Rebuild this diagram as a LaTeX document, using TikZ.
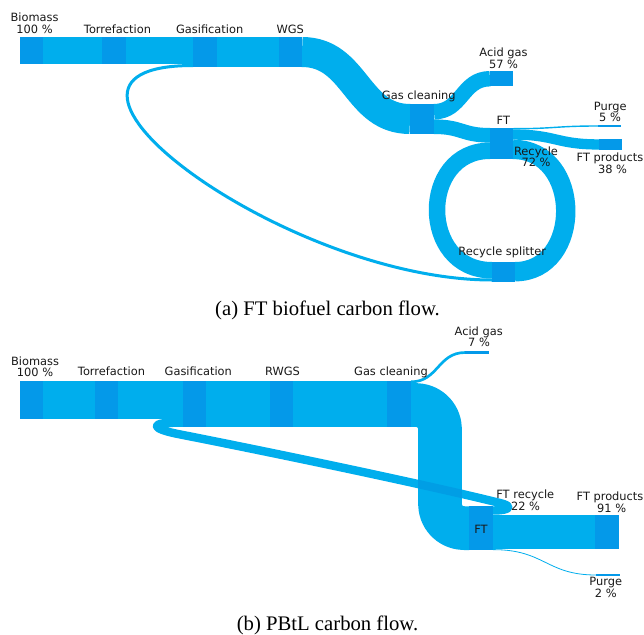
\documentclass[tikz,border=0pt]{standalone}
\usepackage{fontspec}
\setmainfont{Liberation Serif}
\newfontfamily\lblfont{DejaVu Sans}
\usetikzlibrary{calc}
\definecolor{flowc}{RGB}{0,174,237}
\definecolor{overc}{RGB}{0,158,229}
\definecolor{nodec}{RGB}{4,153,233}
\definecolor{labelc}{RGB}{25,25,25}
\pgfdeclarelayer{bg}
\pgfdeclarelayer{flows}
\pgfsetlayers{bg,flows,main}
\begin{document}
\begin{tikzpicture}[x=1pt,y=-1pt,
  proc/.style={rectangle, fill=nodec, draw=none, inner sep=0pt, outer sep=0pt, anchor=north west},
  flow/.style={draw=flowc, line cap=butt, line join=round},
  lbl/.style={font=\lblfont\fontsize{11.4}{13}\selectfont, text=labelc, inner sep=0pt, anchor=base},
  captext/.style={font=\fontsize{20.7}{24}\selectfont, text=black, inner sep=0pt, anchor=base}]
\begin{pgfonlayer}{bg}
\fill[white] (0,0) rectangle (644,634);
\end{pgfonlayer}
\useasboundingbox (0,0) rectangle (644,634);

% ---------------- panel (a) : process nodes
\node[proc, minimum width=23, minimum height=27]   (bioA)   at (20,37) {};
\node[proc, minimum width=24, minimum height=27]   (torA)   at (102,37) {};
\node[proc, minimum width=24, minimum height=30]   (gasA)   at (193,37) {};
\node[proc, minimum width=23, minimum height=30]   (wgsA)   at (279,37) {};
\node[proc, minimum width=24, minimum height=30]   (gcA)    at (410,104) {};
\node[proc, minimum width=23, minimum height=15.4] (acidA)  at (490,71) {};
\node[proc, minimum width=23, minimum height=31]   (ftA)    at (490,128) {};
\node[proc, minimum width=23, minimum height=2]    (purA)   at (598,125) {};
\node[proc, minimum width=23, minimum height=10.3] (prodA)  at (599,139.3) {};
\node[proc, minimum width=23, minimum height=19.5] (splitA) at (492,262) {};

% ---------------- panel (a) : flows
\begin{pgfonlayer}{flows}
\draw[flow, line width=27] (bioA.east) -- (torA.west);
\draw[flow, line width=27] (torA.east) -- (gasA.west |- torA.east);
\draw[flow, line width=30] (gasA.east) -- (wgsA.west);
\draw[flow, line width=30] (wgsA.east) .. controls +(54,0) and +(-54,0) .. (gcA.west);
\draw[flow, line width=15.4] ($(gcA.north east)+(0,7.7)$) .. controls +(28,0) and +(-28,0) .. (acidA.west);
\draw[flow, line width=14.6] ($(gcA.north east)+(0,22.7)$) .. controls +(28,0) and +(-28,0) .. ($(ftA.north west)+(0,7.3)$);
\draw[flow, line width=16.5] ($(splitA.north west)+(0,8.25)$) .. controls +(-73,0) and +(-71,0) .. ($(ftA.north west)+(0,22.75)$);
\draw[flow, line width=1.4] ($(ftA.north east)+(0,0.7)$) .. controls +(43,0) and +(-43,0) .. (purA.west);
\draw[flow, line width=10.3] ($(ftA.north east)+(0,6.55)$) .. controls +(43,0) and +(-43,0) .. (prodA.west);
\draw[flow, line width=19.4] ($(ftA.north east)+(0,21.4)$) .. controls +(70,0) and +(68,0) .. ($(splitA.north east)+(0,9.7)$);
\draw[flow, line width=3] ($(splitA.north west)+(0,18)$) .. controls +(-208,0) and +(-197,0) .. ($(gasA.south west)+(0,-1.5)$);
\end{pgfonlayer}

% ---------------- panel (a) : labels
\node[lbl] (lBioA)  at (34.5,22) {Biomass};
\node[lbl] (vBioA)  at (34.5,34) {100 \%};
\node[lbl] (lTorA)  at (117.5,33.5) {Torrefaction};
\node[lbl] (lGasA)  at (209.7,33.5) {Gasification};
\node[lbl] (lWgsA)  at (290.3,33.5) {WGS};
\node[lbl] (lAcidA) at (503.5,56.6) {Acid gas};
\node[lbl] (vAcidA) at (503.5,68) {57 \%};
\node[lbl] (lGcA)   at (418.8,99) {Gas cleaning};
\node[lbl] (lFtA)   at (503.3,124) {FT};
\node[lbl] (lPurA)  at (610.3,110) {Purge};
\node[lbl] (vPurA)  at (610,121.5) {5 \%};
\node[lbl] (lRecA)  at (536,155) {Recycle};
\node[lbl] (vRecA)  at (536,166.5) {72 \%};
\node[lbl] (lProdA) at (610,161.5) {FT products};
\node[lbl] (vProdA) at (612.5,173) {38 \%};
\node[lbl] (lSplit) at (502.3,255) {Recycle splitter};
\node[captext] (capA) at (327.5,315.5) {(a) FT biofuel carbon flow.};

% ---------------- panel (b) : process nodes
\node[proc, minimum width=23, minimum height=38]   (bioB)  at (20,380.5) {};
\node[proc, minimum width=23, minimum height=38]   (torB)  at (95,380.5) {};
\node[proc, minimum width=23, minimum height=46.4] (gasB)  at (183,380.5) {};
\node[proc, minimum width=23, minimum height=46.4] (rwgsB) at (270,380.5) {};
\node[proc, minimum width=24, minimum height=46.4] (gcB)   at (387,380.5) {};
\node[proc, minimum width=24, minimum height=2.66] (acidB) at (465,351.2) {};
\node[proc, minimum width=24, minimum height=43.7] (ftB)   at (469,506.3) {};
\node[proc, minimum width=24, minimum height=34.6] (prodB) at (595,514.7) {};
\node[proc, minimum width=24, minimum height=2]    (purB)  at (596,574) {};

% ---------------- panel (b) : flows
\begin{pgfonlayer}{flows}
\draw[flow, line width=38] (bioB.east) -- (torB.west);
\draw[flow, line width=38] (torB.east) -- (gasB.west |- torB.east);
\draw[flow, line width=46.4] (gasB.east) -- (rwgsB.west);
\draw[flow, line width=46.4] (rwgsB.east) -- (gcB.west);
\draw[flow, line width=2.66] ($(gcB.north east)+(0,1.33)$) .. controls +(27,0) and +(-27,0) .. (acidB.west);
\draw[flow, line width=43.7, rounded corners=24] ($(gcB.north east)+(0,24.5)$) -- ($(gcB.north east)+(29,24.5)$) -- ($(ftB.west)+(-29,0)$) -- (ftB.west);
\draw[flow, line width=34.6] ($(ftB.north east)+(0,25.7)$) -- (prodB.west);
\draw[flow, line width=0.8] ($(ftB.south east)+(0,-0.4)$) .. controls +(52,0) and +(-50,0) .. (purB.west);
\draw[flow, line width=8.4] ($(ftB.north east)+(0,4.2)$) .. controls +(19,0) and (512,505.7) .. (500,503)
   .. controls (440,488) and (300,458) .. (178,434)
   .. controls (150,428.5) and (152,422.8) .. (172,422.8) -- ($(gasB.south west)+(0,-4.2)$);
% darker crossing of the recycle over the gas-cleaning stream
\begin{scope}
\clip (418.2,440) rectangle (461.8,504);
\draw[flow, draw=overc, line width=8.4] (500,503) .. controls (440,488) and (300,458) .. (178,434);
\end{scope}
\end{pgfonlayer}

% ---------------- panel (b) : labels
\node[lbl] (lBioB)  at (35,365) {Biomass};
\node[lbl] (vBioB)  at (35,376.7) {100 \%};
\node[lbl] (lTorB)  at (111.5,375) {Torrefaction};
\node[lbl] (lGasB)  at (198.3,375) {Gasification};
\node[lbl] (lRwgsB) at (282.5,375) {RWGS};
\node[lbl] (lGcB)   at (391,375) {Gas cleaning};
\node[lbl] (lAcidB) at (478.7,335) {Acid gas};
\node[lbl] (vAcidB) at (479,346.7) {7 \%};
\node[lbl] (lRecB)  at (525.3,498.3) {FT recycle};
\node[lbl] (vRecB)  at (525.5,510.5) {22 \%};
\node[lbl] (lProdB) at (610,500) {FT products};
\node[lbl] (vProdB) at (611.7,512) {91 \%};
\node[lbl] (lPurB)  at (605.7,585.5) {Purge};
\node[lbl] (vPurB)  at (605.8,597.3) {2 \%};
\node[lbl] (lFtB)   at (481,533) {FT};
\node[captext] (capB) at (327.5,630) {(b) PBtL carbon flow.};
\end{tikzpicture}
\end{document}
